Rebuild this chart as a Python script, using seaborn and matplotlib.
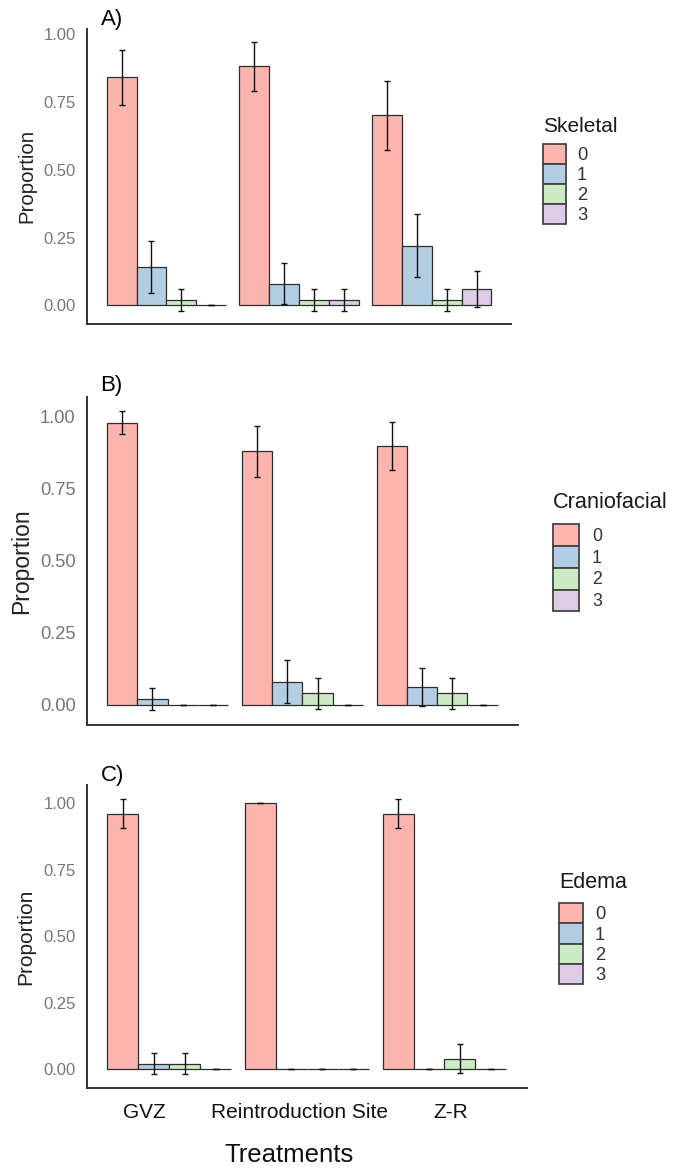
import numpy as np
import pandas as pd
import matplotlib
matplotlib.use("Agg")
import matplotlib.pyplot as plt
import seaborn as sns
from matplotlib.patches import Patch

# ---------------- data ----------------
treatments = ["GVZ", "Reintroduction Site", "Z-R"]
scores = ["0", "1", "2", "3"]
colors = ["#FBB4AE", "#B3CDE3", "#CCEBC5", "#DECBE4"]

# rows = treatments, columns = scores
skeletal_prop = [[0.84, 0.14, 0.02, 0.00],
                 [0.88, 0.08, 0.02, 0.02],
                 [0.70, 0.22, 0.02, 0.06]]
skeletal_err = [[0.102, 0.096, 0.039, 0.0],
                [0.090, 0.075, 0.039, 0.039],
                [0.127, 0.115, 0.039, 0.066]]

cranio_prop = [[0.98, 0.02, 0.00, 0.00],
               [0.88, 0.08, 0.04, 0.00],
               [0.90, 0.06, 0.04, 0.00]]
cranio_err = [[0.039, 0.039, 0.0, 0.0],
              [0.090, 0.075, 0.054, 0.0],
              [0.083, 0.066, 0.054, 0.0]]

edema_prop = [[0.96, 0.02, 0.02, 0.00],
              [1.00, 0.00, 0.00, 0.00],
              [0.96, 0.00, 0.04, 0.00]]
edema_err = [[0.054, 0.039, 0.039, 0.0],
             [0.0, 0.0, 0.0, 0.0],
             [0.054, 0.0, 0.054, 0.0]]

panel_titles = ["Skeletal", "Craniofacial", "Edema"]
panel_letters = ["A)", "B)", "C)"]
ylabel = "Proportion"
xlabel = "Treatments"
yticks = [0.0, 0.25, 0.5, 0.75, 1.0]
ytick_labels = ["0.00", "0.25", "0.50", "0.75", "1.00"]

# ---------------- style ----------------
sns.set_theme(style="white")
plt.rcParams["font.family"] = ["Liberation Sans", "DejaVu Sans"]

W, H = 678, 1168
fig = plt.figure(figsize=(W / 100, H / 100), dpi=100)

# layout in pixels: left, right, top, bottom
boxes = [(86.8, 511.4, 28.5, 324.0),
         (86.8, 518.0, 396.5, 725.0),
         (86.8, 527.0, 785.5, 1088.0)]
tick_fs = [12.0, 13.2, 12.0]
ylab_fs = [14.7, 16.5, 15.0]
ylab_x = [27.0, 22.0, 26.0]
letter_y = [19.0, 385.5, 775.0]
# legend: title x, title y, key top, key w, key h, label fs, label x, title fs
legends = [(543.0, 127.0, 144.0, 23.0, 23.8, 13.2, 577.0, 15.0),
           (552.7, 503.0, 524.0, 26.6, 26.9, 12.8, 592.0, 15.7),
           (559.0, 883.0, 903.0, 24.0, 24.4, 13.2, 595.0, 15.5)]

props = [skeletal_prop, cranio_prop, edema_prop]
errs = [skeletal_err, cranio_err, edema_err]
pal = dict(zip(scores, colors))
t_index = {t_: n for n, t_ in enumerate(treatments)}
s_index = {s_: n for n, s_ in enumerate(scores)}

for k in range(3):
    l, r, t, b = boxes[k]
    ax = fig.add_axes([l / W, 1 - b / H, (r - l) / W, (b - t) / H])
    rows = []
    for i, tr in enumerate(treatments):
        for j, sc in enumerate(scores):
            rows.append({"Treatment": tr, "Score": sc,
                         "Proportion": props[k][i][j], "err": errs[k][i][j]})
    df = pd.DataFrame(rows)
    sns.barplot(data=df, x="Treatment", y="Proportion", hue="Score",
                order=treatments, hue_order=scores, palette=pal,
                saturation=1, width=0.9, edgecolor="#2e2e2e", linewidth=0.9,
                errorbar=None, legend=False, ax=ax)

    # error bars placed at the centres of the drawn bars
    bars = sorted(ax.patches, key=lambda p: p.get_x())
    xs = [p.get_x() + p.get_width() / 2 for p in bars]
    order_key = df["Treatment"].map(t_index) * 10 + df["Score"].map(s_index)
    df_sorted = df.assign(_o=order_key).sort_values("_o")
    ax.errorbar(xs, df_sorted["Proportion"].values, yerr=df_sorted["err"].values,
                fmt="none", ecolor="#111111", elinewidth=1.0, capsize=2.4,
                capthick=1.0, zorder=5)

    lo = min(0.0, (df["Proportion"] - df["err"]).min())
    hi = (df["Proportion"] + df["err"]).max()
    pad = 0.05 * (hi - lo)
    ax.set_ylim(lo - pad, hi + pad)
    ax.set_xlim(-0.6, 2.6)

    ax.set_yticks(yticks)
    ax.set_yticklabels(ytick_labels)
    ax.tick_params(axis="y", length=0, pad=8.0, labelsize=tick_fs[k],
                   labelcolor="#777777")
    for sp in ["top", "right"]:
        ax.spines[sp].set_visible(False)
    for sp in ["left", "bottom"]:
        ax.spines[sp].set_color("#333333")
        ax.spines[sp].set_linewidth(1.4)
    ax.grid(False)

    ax.set_ylabel(ylabel, fontsize=ylab_fs[k], color="#222222")
    ax.yaxis.set_label_coords((ylab_x[k] - l) / (r - l), 0.5)
    ax.yaxis.label.set_verticalalignment("center")

    if k < 2:
        ax.set_xticks([])
        ax.set_xlabel("")
    else:
        ax.set_xticks([-0.183, 0.948, 2.044])
        ax.set_xticklabels(treatments)
        ax.tick_params(axis="x", length=0, pad=10.5, labelsize=15.0,
                       labelcolor="#111111")
        ax.set_xlabel("")

    fig.text(100.5 / W, 1 - letter_y[k] / H, panel_letters[k], fontsize=16,
             ha="left", va="center", color="black")

    tx, ty, ktop, kw, kh, lfs, lx, tfs = legends[k]
    fig.text(tx / W, 1 - ty / H, panel_titles[k], fontsize=tfs,
             ha="left", va="center", color="#1a1a1a")
    fs_px = lfs * 100 / 72
    handles = [Patch(facecolor=c, edgecolor="#444444", linewidth=1.3) for c in colors]
    ax.legend(handles=handles, labels=scores, loc="upper left",
              bbox_to_anchor=(tx / W, 1 - ktop / H), bbox_transform=fig.transFigure,
              frameon=False, borderpad=0, borderaxespad=0,
              handlelength=kw / fs_px, handleheight=kh / fs_px,
              labelspacing=0, handletextpad=(lx - tx - kw) / fs_px,
              fontsize=lfs, labelcolor="#333333")

fig.text(289 / W, 1 - 1155 / H, xlabel, fontsize=18.5, ha="center", va="center",
         color="#111111")

fig.savefig("out.png", dpi=100)
